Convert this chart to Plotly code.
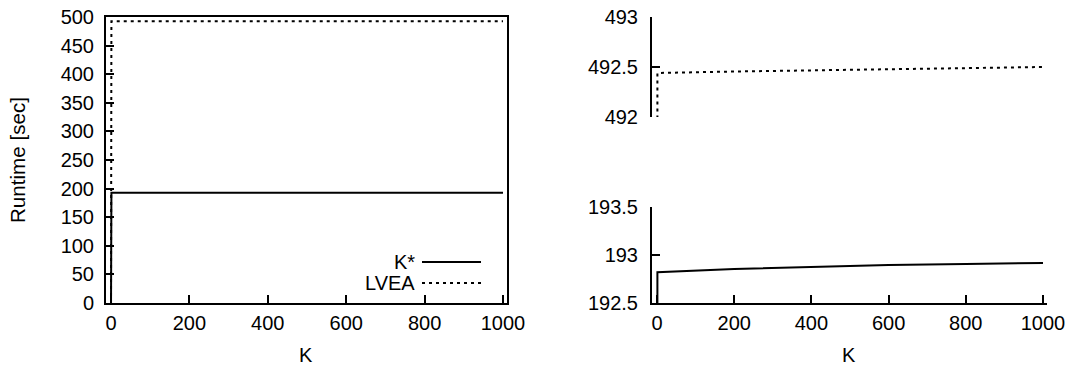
import plotly.graph_objects as go

# ---- data ----
K_values = [0, 1, 200, 400, 600, 800, 1000]
kstar_runtime = [0, 192.82, 192.855, 192.878, 192.896, 192.906, 192.917]
lvea_runtime = [0, 492.44, 492.455, 492.468, 492.48, 492.49, 492.5]
series_names = ["K*", "LVEA"]
x_ticks = [0, 200, 400, 600, 800, 1000]
left_y_ticks = list(range(0, 501, 50))
top_y_ticks = [492, 492.5, 493]
top_y_labels = ["492", "492.5", "493"]
bot_y_ticks = [192.5, 193, 193.5]
bot_y_labels = ["192.5", "193", "193.5"]

W, H = 1076, 368
FONT = "Liberation Sans, Arial, sans-serif"
FS = 20

def px(x):
    return x / W

def py(y):
    return 1 - y / H

styles = {"K*": dict(color="black", width=2, dash="solid"),
          "LVEA": dict(color="black", width=2, dash="3px,4px")}

fig = go.Figure()
# left panel
fig.add_trace(go.Scatter(x=K_values, y=kstar_runtime, mode="lines", line=styles["K*"],
                         xaxis="x", yaxis="y", showlegend=False))
fig.add_trace(go.Scatter(x=K_values, y=lvea_runtime, mode="lines", line=styles["LVEA"],
                         xaxis="x", yaxis="y", showlegend=False))
# right top (LVEA)
fig.add_trace(go.Scatter(x=K_values, y=lvea_runtime, mode="lines", line=styles["LVEA"],
                         xaxis="x3", yaxis="y3", showlegend=False))
# right bottom (K*)
fig.add_trace(go.Scatter(x=K_values, y=kstar_runtime, mode="lines", line=styles["K*"],
                         xaxis="x2", yaxis="y2", showlegend=False))

tickfont = dict(family=FONT, size=FS, color="black")
axcommon = dict(ticks="inside", ticklen=8, tickwidth=1.5, tickcolor="black",
                showgrid=False, zeroline=False, tickfont=tickfont, automargin=False,
                linecolor="black", linewidth=2)

fig.update_layout(
    template="none",
    width=W, height=H, margin=dict(l=0, r=0, t=0, b=0, pad=0), autosize=False,
    paper_bgcolor="white", plot_bgcolor="white",
    font=dict(family=FONT, size=FS, color="black"),
    xaxis=dict(domain=[px(106), px(507)], range=[-12.8, 1010.2], tickvals=x_ticks,
               showline=True, mirror=True, anchor="y", ticklabelstandoff=1, **axcommon),
    yaxis=dict(domain=[py(303), py(17)], range=[0, 500], tickvals=left_y_ticks,
               showline=True, mirror=True, anchor="x", ticklabelstandoff=6, **axcommon),
    xaxis2=dict(domain=[px(652), px(1047)], range=[-13, 1010.4], tickvals=x_ticks,
                showline=True, anchor="y2", ticklabelstandoff=1, **axcommon),
    yaxis2=dict(domain=[py(303), py(207)], range=[192.5, 193.5], tickvals=bot_y_ticks,
                ticktext=bot_y_labels, showline=True, anchor="x2", ticklabelstandoff=8,
                **axcommon),
    xaxis3=dict(domain=[px(652), px(1047)], range=[-13, 1010.4], visible=False,
                anchor="y3"),
    yaxis3=dict(domain=[py(117), py(17)], range=[492, 493], tickvals=top_y_ticks,
                ticktext=top_y_labels, showline=True, anchor="x3", ticklabelstandoff=8,
                **axcommon),
)

annotations = [
    dict(text="Runtime [sec]", x=px(18), y=py(160), xref="paper", yref="paper",
         textangle=-90, showarrow=False, xanchor="center", yanchor="middle",
         font=dict(size=20.6)),
    dict(text="K", x=px(306), y=py(355), xref="paper", yref="paper",
         showarrow=False, xanchor="center", yanchor="middle"),
    dict(text="K", x=px(849.5), y=py(355), xref="paper", yref="paper",
         showarrow=False, xanchor="center", yanchor="middle"),
]
# legend (text left of sample, as in the original)
legend_rows = [262, 283]
shapes = []
for name, yrow in zip(series_names, legend_rows):
    annotations.append(dict(text=name, x=px(417), y=py(yrow), xref="paper", yref="paper",
                            showarrow=False, xanchor="right", yanchor="middle"))
    st = styles[name]
    shapes.append(dict(type="line", xref="paper", yref="paper",
                       x0=px(422), x1=px(481), y0=py(yrow), y1=py(yrow),
                       line=dict(color=st["color"], width=st["width"], dash=st["dash"])))
fig.update_layout(annotations=annotations, shapes=shapes)

fig.write_html("out.html")
